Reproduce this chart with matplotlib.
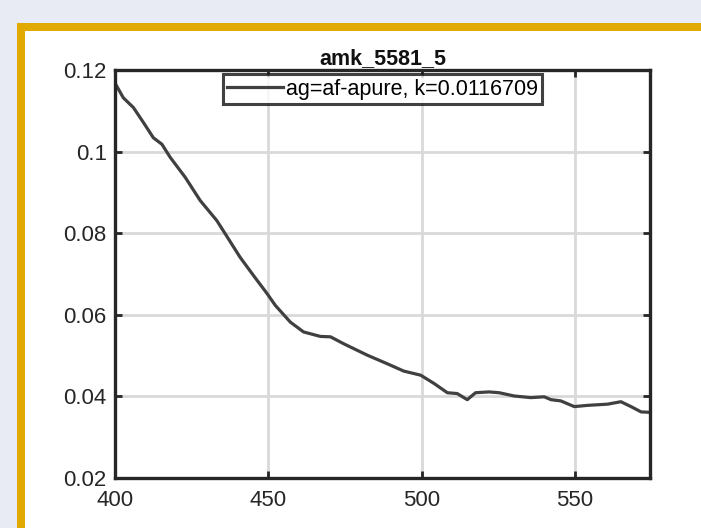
import matplotlib
matplotlib.use("Agg")
import matplotlib.pyplot as plt
from matplotlib.patches import Rectangle

plt.rcParams['font.family'] = ['Liberation Sans', 'DejaVu Sans']

wavelength = [400, 402.7, 406, 409.3, 412.5, 415.3, 418, 422.9, 427.8, 433.2, 436, 440.8,
              445.2, 449.6, 452.3, 457.2, 461.5, 467, 470.3, 474.6, 479, 482.3, 488.8,
              494.2, 499.7, 504, 508.4, 511.6, 514.9, 517.6, 522, 525.3, 530.2, 535.6,
              540, 542.2, 545.4, 549.8, 554.1, 560.7, 565, 568.3, 571.6, 574.3]
ag = [0.1168, 0.1132, 0.1108, 0.1071, 0.1034, 0.1018, 0.0986, 0.0937, 0.0880, 0.0831,
      0.0798, 0.0741, 0.0696, 0.0652, 0.0623, 0.0582, 0.0558, 0.0547, 0.0546, 0.0529,
      0.0513, 0.0501, 0.0480, 0.0462, 0.0452, 0.0432, 0.0409, 0.0407, 0.0392, 0.0409,
      0.0411, 0.0409, 0.0401, 0.0397, 0.0399, 0.0392, 0.0389, 0.0375, 0.0378, 0.0381,
      0.0387, 0.0375, 0.0362, 0.0361]
xticks = [400, 450, 500, 550]
yticks = [0.02, 0.04, 0.06, 0.08, 0.1, 0.12]
ytick_labels = ["0.02", "0.04", "0.06", "0.08", "0.1", "0.12"]
title = "amk_5581_5"
label = "ag=af-apure, k=0.0116709"

W, H = 701, 528
fig = plt.figure(figsize=(W / 100, H / 100), dpi=100)
fig.patch.set_facecolor('#e8ebf4')
fig.add_artist(Rectangle((17 / W, -0.1), 1.2, (H - 23) / H + 0.1, transform=fig.transFigure,
                         facecolor='#e0aa00', edgecolor='none', zorder=0))
fig.add_artist(Rectangle((25 / W, -0.1), 1.2, (H - 31) / H + 0.1, transform=fig.transFigure,
                         facecolor='white', edgecolor='none', zorder=0))

ax = fig.add_axes([115 / W, (H - 478) / H, (650 - 115) / W, (478 - 70) / H])
ax.plot(wavelength, ag, color='#404040', lw=2.3, label=label)
ax.set_xlim(400, 574.5)
ax.set_ylim(0.02, 0.12)
ax.set_xticks(xticks)
ax.set_yticks(yticks)
ax.set_yticklabels(ytick_labels)
ax.grid(True, color='#d9d9d9', lw=2)
ax.set_axisbelow(True)
ax.tick_params(direction='in', length=5, width=2, colors='#262626', labelsize=16,
               top=True, right=True)
ax.tick_params(axis='x', pad=9)
ax.tick_params(axis='y', pad=6)
for s in ax.spines.values():
    s.set_linewidth(2.4)
    s.set_color('#262626')
ax.set_title(title, fontsize=15.5, fontweight='bold', color='#111111', pad=4)
leg = ax.legend(loc='upper center', fontsize=15.5, frameon=True, fancybox=False,
                handlelength=2.6, handletextpad=0.15, borderpad=0.2, borderaxespad=0.2,
                bbox_to_anchor=(0.5, 1.0))
leg.get_frame().set_edgecolor('#111111')
leg.get_frame().set_linewidth(2.2)

fig.savefig('out.png', dpi=100, facecolor=fig.get_facecolor())
